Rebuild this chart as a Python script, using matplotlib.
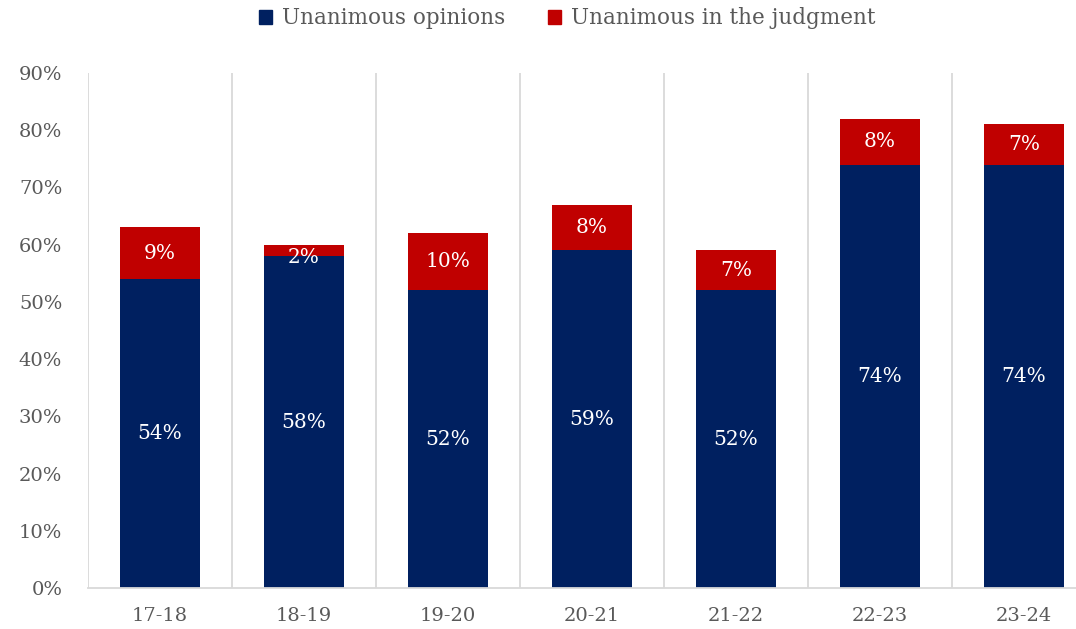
import matplotlib
matplotlib.use('Agg')
from matplotlib import pyplot as plt
from matplotlib.patches import Patch
import numpy as np

terms = ['17-18', '18-19', '19-20', '20-21', '21-22', '22-23', '23-24']
unanimous_opinions = [54, 58, 52, 59, 52, 74, 74]
unanimous_judgment = [9, 2, 10, 8, 7, 8, 7]

navy = '#002060'
red = '#C00000'
grey_text = '#595959'
grid_col = '#D9D9D9'

plt.rcParams['font.family'] = ['DejaVu Serif']

fig = plt.figure(figsize=(10.76, 6.29), dpi=100)
ax = fig.add_axes([88 / 1076, 41 / 629, 1008 / 1076, 515 / 629])

x = np.arange(len(terms))
w = 0.556
op = np.array(unanimous_opinions) / 100
jd = np.array(unanimous_judgment) / 100
ax.bar(x, op, w, color=navy, zorder=2)
ax.bar(x, jd, w, bottom=op, color=red, zorder=2)

for i in range(len(terms)):
    ax.text(x[i], op[i] / 2, f'{unanimous_opinions[i]}%', ha='center', va='center',
            color='white', fontsize=14.5, zorder=3)
    # the 2% label sits a little low in the original
    yj = op[i] + jd[i] / 2 if jd[i] > 0.03 else op[i] + jd[i] / 2 - 0.012
    ax.text(x[i], yj, f'{unanimous_judgment[i]}%', ha='center', va='center',
            color='white', fontsize=14.5, zorder=3)

ax.set_xlim(-0.5, len(terms) - 0.5)
ax.set_ylim(0, 0.9)
ax.set_yticks(np.arange(0, 0.91, 0.1))
ax.set_yticklabels([f'{v}%' for v in range(0, 91, 10)])
ax.set_xticks(x)
ax.set_xticklabels(terms)
ax.set_xticks(np.arange(-0.5, len(terms), 1), minor=True)
ax.grid(which='minor', axis='x', color=grid_col, lw=1.3, zorder=0)
ax.tick_params(which='both', length=0, colors=grey_text, labelsize=14)
ax.tick_params(axis='x', pad=14)
ax.tick_params(axis='y', pad=18.5)
for s in ['top', 'right', 'left']:
    ax.spines[s].set_visible(False)
ax.spines['bottom'].set_color(grid_col)
ax.spines['bottom'].set_linewidth(1.3)

handles = [Patch(color=navy, label='Unanimous opinions'),
           Patch(color=red, label='Unanimous in the judgment')]
fig.legend(handles=handles, loc='upper center', bbox_to_anchor=(0.527, 1.019), ncol=2,
           frameon=False, fontsize=15.5, labelcolor=grey_text, handlelength=0.6,
           handleheight=0.6, handletextpad=0.47, columnspacing=2.0)

fig.savefig('out.png', dpi=100)
